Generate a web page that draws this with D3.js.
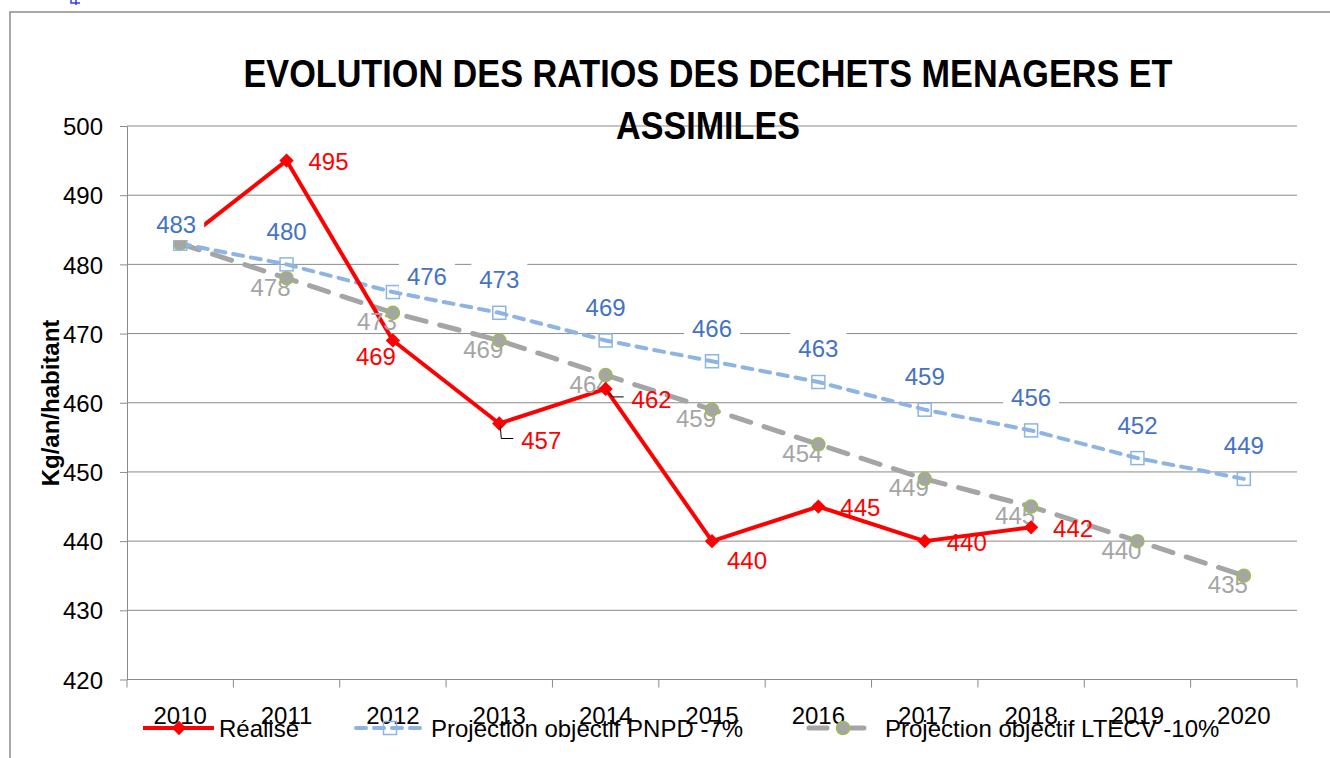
<!DOCTYPE html>
<html>
<head>
<meta charset="utf-8">
<script src="https://cdn.jsdelivr.net/npm/d3@7"></script>
<style>
	html, body { margin: 0; padding: 0; background: #fff; }
	svg { display: block; font-family: "Liberation Sans", Arial, sans-serif; }
	.grid line { stroke: #8a8a8a; stroke-width: 1; }
	.axis path, .axis line { stroke: #8a8a8a; stroke-width: 1; }
	.axis text { font-size: 24px; fill: #000; }
</style>
</head>
<body>
<svg id="chart" width="1330" height="758"></svg>
<script>
'use strict';

var years = ['2010', '2011', '2012', '2013', '2014', '2015', '2016', '2017', '2018', '2019', '2020'];
var realise = [483, 495, 469, 457, 462, 440, 445, 440, 442, null, null];
var pnpd = [483, 480, 476, 473, 469, 466, 463, 459, 456, 452, 449];
var ltecv = [483, 478, 473, 469, 464, 459, 454, 449, 445, 440, 435];
var yTicks = [420, 430, 440, 450, 460, 470, 480, 490, 500];

var RED = "#FF0000";
var BLUE_LINE = "#8EB4E3";
var BLUE_TEXT = "#4472C4";
var GRAY = "#A5A5A5";
var GREEN = "#9BBB59";

// label placement (offset of label centre from its point), Excel put some by hand
var redLabelOffset = {1: [42, 1], 2: [-17, 16], 3: [42, 17], 4: [46, 11], 5: [35, 19]};
var redLabelDefault = [42, 1];
var blueLabelOffset = {0: [-4, -19], 2: [34, -16]};
var blueLabelDefault = [0, -33];
var grayLabelDefault = [-16, 9];

var svg = d3.select('#chart');

var margin = {left: 127, right: 1297, top: 126, bottom: 679.5};

var x = d3.scaleBand()
	.domain(years)
	.range([margin.left, margin.right]);

var y = d3.scaleLinear()
	.domain([420, 500])
	.range([margin.bottom, margin.top]);

function cx(i) { return x(years[i]) + x.bandwidth() / 2; }

// keep the index with each value so filtering keeps positions right
function points(values) {
	return values.map(function(v, i) { return {v: v, i: i}; })
		.filter(function(d) { return d.v != null; });
}

// chart frame (only left and top visible)
svg.append('path')
	.attr('d', 'M10,758 L10,12 L1330,12')
	.attr('fill', 'none')
	.attr('stroke', '#8c8c8c')
	.attr('stroke-width', 1.5);

// small stray mark at the top
svg.append('path')
	.attr('d', 'M71,0 L71,3 L80,3 M76,0 L76,5')
	.attr('fill', 'none')
	.attr('stroke', '#3a3af0')
	.attr('stroke-width', 1.5);

// gridlines
svg.append('g')
	.attr('class', 'grid')
	.selectAll('line')
	.data(yTicks.slice(1))
	.enter().append('line')
		.attr('x1', margin.left)
		.attr('x2', margin.right)
		.attr('y1', function(d) { return y(d); })
		.attr('y2', function(d) { return y(d); });

// y axis
var yAxis = svg.append('g')
	.attr('class', 'axis')
	.attr('transform', 'translate(' + margin.left + ',0)')
	.call(d3.axisLeft(y).tickValues(yTicks).tickSize(7).tickSizeOuter(0).tickPadding(17));
yAxis.selectAll('text').attr('dy', '0.36em');

// x axis (ticks between categories)
var xAxisG = svg.append('g')
	.attr('class', 'axis')
	.attr('transform', 'translate(0,' + margin.bottom + ')');
xAxisG.append('line')
	.attr('x1', margin.left)
	.attr('x2', margin.right);
xAxisG.selectAll('.tk')
	.data(years.concat(['end']))
	.enter().append('line')
		.attr('class', 'tk')
		.attr('x1', function(d, i) { return margin.left + i * x.bandwidth(); })
		.attr('x2', function(d, i) { return margin.left + i * x.bandwidth(); })
		.attr('y2', 8);
xAxisG.selectAll('text')
	.data(years)
	.enter().append('text')
		.attr('x', function(d) { return x(d) + x.bandwidth() / 2; })
		.attr('y', 44)
		.attr('text-anchor', 'middle')
		.text(function(d) { return d; });

// y axis title
svg.append('text')
	.attr('transform', 'translate(59,403) rotate(-90)')
	.attr('text-anchor', 'middle')
	.style('font-size', '24px')
	.style('font-weight', 'bold')
	.text('Kg/an/habitant');

// title
var title = svg.append('g')
	.attr('text-anchor', 'middle')
	.style('font-size', '38px')
	.style('font-weight', 'bold');
title.append('text')
	.attr('x', 708)
	.attr('y', 87)
	.attr('textLength', 929)
	.attr('lengthAdjust', 'spacingAndGlyphs')
	.text('EVOLUTION DES RATIOS DES DECHETS MENAGERS ET');
title.append('text')
	.attr('x', 708)
	.attr('y', 139)
	.attr('textLength', 184)
	.attr('lengthAdjust', 'spacingAndGlyphs')
	.text('ASSIMILES');

// lines
function lineFor(values) {
	return d3.line()
		.defined(function(d) { return d != null; })
		.x(function(d, i) { return cx(i); })
		.y(function(d) { return y(d); })(values);
}

svg.append('path')
	.attr('d', lineFor(ltecv))
	.attr('fill', 'none')
	.attr('stroke', GRAY)
	.attr('stroke-width', 5)
	.attr('stroke-dasharray', '20,14')
	.attr('stroke-linecap', 'round');

svg.append('path')
	.attr('d', lineFor(pnpd))
	.attr('fill', 'none')
	.attr('stroke', BLUE_LINE)
	.attr('stroke-width', 4)
	.attr('stroke-dasharray', '10,8')
	.attr('stroke-linecap', 'round');

svg.append('path')
	.attr('d', lineFor(realise))
	.attr('fill', 'none')
	.attr('stroke', RED)
	.attr('stroke-width', 4)
	.attr('stroke-linejoin', 'round');

// gray labels sit under the markers (first one is hidden behind the blue one)
svg.append('g')
	.selectAll('text')
	.data(points(ltecv).slice(1))
	.enter().append('text')
		.attr('x', function(d) { return cx(d.i) + grayLabelDefault[0]; })
		.attr('y', function(d) { return y(d.v) + grayLabelDefault[1] + 8.5; })
		.attr('text-anchor', 'middle')
		.style('font-size', '24px')
		.style('fill', GRAY)
		.text(function(d) { return d.v; });

// markers
var diamond = d3.symbol().type(d3.symbolDiamond2).size(130);

svg.append('g')
	.selectAll('circle')
	.data(points(ltecv))
	.enter().append('circle')
		.attr('cx', function(d) { return cx(d.i); })
		.attr('cy', function(d) { return y(d.v); })
		.attr('r', 6.5)
		.attr('fill', GRAY)
		.attr('stroke', GREEN)
		.attr('stroke-width', 1.5);

svg.append('g')
	.selectAll('rect')
	.data(points(pnpd))
	.enter().append('rect')
		.attr('x', function(d) { return cx(d.i) - 6.5; })
		.attr('y', function(d) { return y(d.v) - 6.5; })
		.attr('width', 13)
		.attr('height', 13)
		.attr('fill', 'none')
		.attr('stroke', BLUE_LINE)
		.attr('stroke-width', 1.5);

// first red marker is not shown in the original
svg.append('g')
	.selectAll('path')
	.data(points(realise).slice(1))
	.enter().append('path')
		.attr('d', diamond)
		.attr('transform', function(d) { return 'translate(' + cx(d.i) + ',' + y(d.v) + ')'; })
		.attr('fill', RED);

// blue labels with white boxes
var blueLab = svg.append('g')
	.selectAll('g')
	.data(points(pnpd))
	.enter().append('g')
		.attr('transform', function(d) {
			var o = blueLabelOffset[d.i] || blueLabelDefault;
			return 'translate(' + (cx(d.i) + o[0]) + ',' + (y(d.v) + o[1]) + ')';
		});
blueLab.append('rect')
	.attr('x', -28)
	.attr('y', -19.5)
	.attr('width', 56)
	.attr('height', 35)
	.attr('fill', '#fff');
blueLab.append('text')
	.attr('y', 8.5)
	.attr('text-anchor', 'middle')
	.style('font-size', '24px')
	.style('fill', BLUE_TEXT)
	.text(function(d) { return d.v; });

// red labels, two of them with leader lines
var redG = svg.append('g');
points(realise).slice(1).forEach(function(d) {
	var i = d.i;
	var o = redLabelOffset[i] || redLabelDefault;
	var px = cx(i), py = y(d.v);
	var lx = px + o[0], ly = py + o[1];
	if (i === 3 || i === 4) {
		var bend = i === 3 ? [px + 2, ly - 2] : [px + 7, ly - 3];
		redG.append('path')
			.attr('d', 'M' + (px + 1) + ',' + (py + 2) + ' L' + bend[0] + ',' + bend[1] + ' L' + (lx - 28) + ',' + bend[1])
			.attr('fill', 'none')
			.attr('stroke', '#000')
			.attr('stroke-width', 1);
	}
	redG.append('text')
		.attr('x', lx)
		.attr('y', ly + 8.5)
		.attr('text-anchor', 'middle')
		.style('font-size', '24px')
		.style('fill', RED)
		.text(d.v);
});

// legend
var legend = svg.append('g').attr('transform', 'translate(0,728)');
legend.append('line')
	.attr('x1', 143).attr('x2', 214)
	.attr('stroke', RED).attr('stroke-width', 4);
legend.append('path')
	.attr('d', diamond)
	.attr('transform', 'translate(179,0)')
	.attr('fill', RED);
legend.append('text')
	.attr('x', 219).attr('y', 9)
	.style('font-size', '24px')
	.text('Réalisé');

legend.append('line')
	.attr('x1', 356).attr('x2', 421)
	.attr('stroke', BLUE_LINE).attr('stroke-width', 4)
	.attr('stroke-dasharray', '10,8').attr('stroke-linecap', 'round');
legend.append('rect')
	.attr('x', 383.5).attr('y', -6.5)
	.attr('width', 13).attr('height', 13)
	.attr('fill', 'none')
	.attr('stroke', BLUE_LINE).attr('stroke-width', 1.5);
legend.append('text')
	.attr('x', 431).attr('y', 9)
	.style('font-size', '24px')
	.text('Projection objectif PNPD -7%');

legend.append('line')
	.attr('x1', 809).attr('x2', 864)
	.attr('stroke', GRAY).attr('stroke-width', 5)
	.attr('stroke-dasharray', '18,22').attr('stroke-linecap', 'round');
legend.append('circle')
	.attr('cx', 843).attr('r', 6.5)
	.attr('fill', GRAY)
	.attr('stroke', GREEN).attr('stroke-width', 1.5);
legend.append('text')
	.attr('x', 885).attr('y', 9)
	.style('font-size', '24px')
	.text('Projection objectif LTECV -10%');
</script>
</body>
</html>
